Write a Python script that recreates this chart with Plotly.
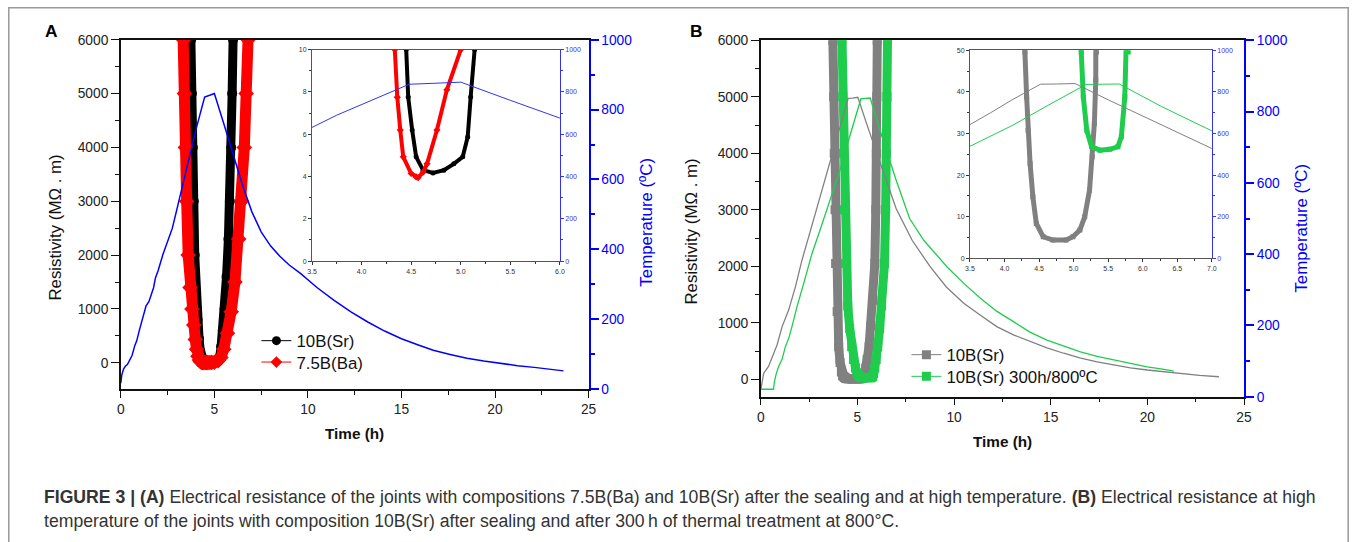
import plotly.graph_objects as go

W, H = 1357, 542
# measured mapping of the photographed page: screen = O + S * page
SX, OX, SY, OY = 0.992, 3.5, 0.973, 6.7
def pgx(s): return (s - OX) / SX
def pgy(s): return (s - OY) / SY
def px(s): return pgx(s) / W
def py(s): return 1 - pgy(s) / H
FS = 1.02  # font compensation

# ---------------- Panel A data ----------------
sr_a_t = [3.72, 3.76, 3.80, 3.85, 3.90, 3.95, 4.02, 4.10, 4.18, 4.25, 4.32, 4.38, 4.42,
          4.45, 4.47, 4.51, 4.55, 4.62, 4.72, 4.83, 4.93, 5.02, 5.07, 5.10, 5.14,
          5.20, 5.28, 5.36, 5.45, 5.55, 5.65, 5.75, 5.83, 5.90, 5.95, 6.00, 6.03]
sr_a_r = [6500, 6000, 5000, 4000, 3000, 2000, 1300, 800, 450, 220, 90, 35, 15,
          10, 7.76, 6.2, 4.93, 4.3, 4.17, 4.3, 4.6, 4.93, 5.87, 7.76, 10,
          30, 100, 300, 600, 1000, 1600, 2300, 3000, 4000, 5000, 6000, 6500]

ba_a_t = [3.30, 3.35, 3.40, 3.45, 3.52, 3.60, 3.70, 3.80, 3.90, 3.98, 4.05, 4.12, 4.20,
          4.26, 4.30, 4.335, 4.36, 4.39, 4.42, 4.50, 4.55, 4.57, 4.62, 4.66, 4.76,
          4.86, 5.00, 5.20, 5.35, 5.50, 5.70, 5.90, 6.10, 6.30, 6.45, 6.60, 6.70, 6.80, 6.85]
ba_a_r = [6500, 6000, 5000, 4000, 3000, 2000, 1400, 1000, 700, 430, 250, 120, 50,
          20, 13, 10, 7.75, 6.2, 4.93, 4.14, 3.98, 3.95, 4.2, 4.6, 6.2,
          8.1, 10, 40, 100, 250, 550, 950, 1500, 2300, 3000, 4000, 5000, 6000, 6500]

temp_a_t = [0, 0.05, 0.15, 0.25, 0.35, 0.5, 0.6, 0.75, 0.85, 1.0, 1.1, 1.25, 1.35, 1.5,
            1.6, 1.75, 1.85, 2.0, 2.25, 2.5, 2.75, 3.0, 3.25, 3.5, 3.75, 4.0, 4.25, 4.48,
            4.75, 5.0, 5.5, 6.0, 6.5, 7.0, 7.5, 8.0, 8.5, 9.0, 9.6, 10.5, 11.4, 12.3,
            13.2, 14.1, 15.0, 15.9, 16.7, 17.6, 18.5, 19.4, 20.3, 21.2, 22.1, 22.9, 23.66]
temp_a_v = [17, 40, 58, 66, 70, 86, 96, 125, 138, 170, 190, 212, 238, 250,
            268, 290, 318, 340, 385, 420, 460, 515, 572, 632, 690, 740, 790, 836,
            841, 846, 760, 672, 585, 508, 450, 410, 380, 355, 331, 290, 254, 221,
            192, 166, 144, 126, 111, 99, 88, 80, 73, 67, 62, 57, 52]

# ---------------- Panel B data ----------------
sr_b_t = [3.70, 3.73, 3.77, 3.80, 3.84, 3.87, 3.95, 4.03, 4.10, 4.17, 4.23,
          4.295, 4.32, 4.34, 4.37, 4.41, 4.46, 4.56, 4.70, 4.89, 4.99, 5.09, 5.16,
          5.23, 5.27, 5.30, 5.32, 5.33,
          5.37, 5.43, 5.50, 5.60, 5.70, 5.80, 5.90, 5.95, 5.98, 6.00, 6.02, 6.04]
sr_b_r = [6500, 6000, 5000, 4000, 3000, 2050, 1200, 576, 300, 130, 65,
          49.6, 38.8, 30.8, 22.8, 14.8, 8.4, 5.2, 4.4, 4.4, 5.2, 6.8, 10,
          16.4, 24.4, 32.4, 42.8, 49.6,
          100, 200, 350, 576, 950, 1400, 2050, 3000, 4000, 5000, 6000, 6500]

aged_b_t = [4.17, 4.20, 4.24, 4.28, 4.33, 4.38, 4.50, 4.60, 4.70, 4.80, 4.90, 4.98, 5.05,
            5.11, 5.14, 5.19, 5.26, 5.38, 5.52, 5.64, 5.69, 5.74, 5.79,
            5.84, 5.90, 5.97, 6.05, 6.15, 6.25, 6.40, 6.46, 6.50, 6.53, 6.55, 6.57]
aged_b_r = [6500, 6000, 5000, 4000, 3000, 2050, 1300, 900, 576, 350, 200, 110, 70,
            49.6, 38.8, 30.8, 26.8, 26.0, 26.2, 26.8, 29.2, 38.8, 49.6,
            100, 200, 350, 576, 900, 1300, 2050, 3000, 4000, 5000, 6000, 6500]

temp_sr_b_t = [0, 0.15, 0.4, 0.66, 0.84, 1.1, 1.44, 1.79, 2.13, 2.48, 2.82, 3.17, 3.5,
               3.8, 4.1, 4.52, 4.75, 5.02, 5.5, 6.0, 6.5, 7.0, 7.83, 8.77, 9.6, 10.5,
               11.4, 12.23, 13.1, 13.95, 14.8, 15.67, 16.5, 17.4, 18.3, 19.12, 20.0,
               20.85, 21.8, 22.7, 23.7]
temp_sr_b_v = [19, 66, 85, 122, 145, 196, 243, 308, 383, 449, 514, 580, 645,
               700, 760, 837, 838, 840, 762, 683, 605, 528, 439, 364, 308, 262,
               227, 196, 173, 154, 137, 122, 109, 98, 89, 81, 75,
               70, 65, 60, 56]

temp_aged_b_t = [0, 0.66, 0.70, 0.80, 0.92, 1.1, 1.27, 1.45, 1.61, 1.87, 2.22, 2.65, 3.08,
                 3.5, 4.12, 4.6, 5.18, 5.42, 5.66, 6.27, 7.0, 7.7, 8.43, 9.64, 10.5,
                 11.36, 12.2, 13.09, 13.9, 14.8, 15.7, 16.54, 17.4, 18.26, 19.1, 19.99,
                 20.7, 21.37]
temp_aged_b_v = [21, 21, 40, 65, 84, 105, 140, 165, 196, 252, 318, 402, 470,
                 540, 640, 730, 836, 837, 838, 730, 608, 500, 439, 364, 318,
                 276, 240, 210, 182, 159, 141, 126, 113, 103, 93, 84,
                 78, 72]

main_x_ticks = [0, 5, 10, 15, 20, 25]
res_ticks = [0, 1000, 2000, 3000, 4000, 5000, 6000]
temp_ticks = [0, 200, 400, 600, 800, 1000]

BLACK = "#000000"
RED = "#ff0000"
BLUE = "#0000ff"
GRAY = "#808080"
GREEN = "#1fcc4e"
FONT = "Arial, Liberation Sans, Helvetica, sans-serif"

fig = go.Figure()

def add(x, y, xa, ya, color, symbol=None, msize=0, lwidth=1, mode="lines+markers"):
    fig.add_trace(go.Scatter(
        x=x, y=y, xaxis=xa, yaxis=ya, mode=mode, showlegend=False,
        line=dict(color=color, width=lwidth),
        marker=dict(color=color, symbol=symbol or "circle", size=msize),
        hoverinfo="skip"))

# Panel A main
add(sr_a_t, sr_a_r, "x", "y", BLACK, "circle", 10, 9)
add(ba_a_t, ba_a_r, "x", "y", RED, "diamond", 12, 11)
add(temp_a_t, temp_a_v, "x", "y2", BLUE, lwidth=1.5, mode="lines")
# Panel A inset
add(sr_a_t, sr_a_r, "x3", "y3", BLACK, "circle", 5, 4)
add(ba_a_t, ba_a_r, "x3", "y3", RED, "diamond", 5.5, 4)
add(temp_a_t, temp_a_v, "x3", "y4", "#3333ee", lwidth=1, mode="lines")
# Panel B main
add(sr_b_t, sr_b_r, "x2", "y5", GRAY, "square", 9, 9)
add(aged_b_t, aged_b_r, "x2", "y5", GREEN, "square", 9, 9)
add(temp_sr_b_t, temp_sr_b_v, "x2", "y6", GRAY, lwidth=1.3, mode="lines")
add(temp_aged_b_t, temp_aged_b_v, "x2", "y6", GREEN, lwidth=1.3, mode="lines")
# Panel B inset
add(sr_b_t, sr_b_r, "x4", "y7", GRAY, "square", 5, 5)
add(aged_b_t, aged_b_r, "x4", "y7", GREEN, "square", 5, 5)
add(temp_sr_b_t, temp_sr_b_v, "x4", "y8", GRAY, lwidth=1, mode="lines")
add(temp_aged_b_t, temp_aged_b_v, "x4", "y8", GREEN, lwidth=1, mode="lines")

# legend entries, one legend per entry for exact placement
LEG_FONT = dict(family=FONT, size=16.5 * FS, color="#111")
legend_items = [
    ("10B(Sr)", BLACK, "circle", "legend", 297, 339.3),
    ("7.5B(Ba)", RED, "diamond", "legend2", 297, 360.7),
    ("10B(Sr)", GRAY, "square", "legend3", 948, 353.3),
    ("10B(Sr) 300h/800ºC", GREEN, "square", "legend4", 948, 375.0),
]
legend_layout = {}
for name, color, symbol, lg, tx, ty in legend_items:
    fig.add_trace(go.Scatter(
        x=[None], y=[None], xaxis="x", yaxis="y", mode="lines+markers", name=name,
        line=dict(color=color, width=1), marker=dict(color=color, symbol=symbol, size=9),
        legend=lg))
    legend_layout[lg] = dict(x=(pgx(tx) - 42) / W, y=1 - (pgy(ty) - 16.6) / H,
                             xanchor="left", yanchor="top", bgcolor="rgba(0,0,0,0)",
                             font=LEG_FONT, itemwidth=30)

tickfont_main = dict(family=FONT, size=13.5 * FS, color="#222")
tickfont_blue = dict(family=FONT, size=13.5 * FS, color=BLUE)
tickfont_in = dict(family=FONT, size=7, color="#333")
tickfont_in_blue = dict(family=FONT, size=7, color="#3333ee")

def xmain(dom, anchor):
    return dict(domain=dom, anchor=anchor, range=[0, 25], tickvals=main_x_ticks,
                ticks="outside", ticklen=7, tickwidth=1.3, tickcolor="#111",
                showline=True, linecolor="#111", linewidth=1.5, mirror=True,
                showgrid=False, zeroline=False, tickfont=tickfont_main,
                minor=dict(dtick=2.5, tick0=0, ticks="outside", ticklen=4,
                           tickcolor="#111", tickwidth=1.2))

def yleft(dom, anchor, rng):
    return dict(domain=dom, anchor=anchor, range=rng, tickvals=res_ticks,
                ticks="outside", ticklen=8, tickwidth=1.3, tickcolor="#111",
                showline=True, linecolor="#111", linewidth=1.5, showgrid=False,
                zeroline=False, tickfont=tickfont_main,
                minor=dict(dtick=500, tick0=0, ticks="outside", ticklen=4,
                           tickcolor="#111", tickwidth=1.2))

def yright(over, anchor):
    return dict(overlaying=over, anchor=anchor, side="right", range=[0, 1000],
                tickvals=temp_ticks, ticks="outside", ticklen=8, tickwidth=1.5,
                tickcolor=BLUE, showline=True, linecolor=BLUE, linewidth=2,
                showgrid=False, zeroline=False, tickfont=tickfont_blue,
                minor=dict(dtick=100, tick0=0, ticks="outside", ticklen=4,
                           tickcolor=BLUE, tickwidth=1.5))

def xin(dom, anchor, rng):
    return dict(domain=dom, anchor=anchor, range=rng, dtick=0.5, tick0=3.5,
                tickformat=".1f", ticks="outside", ticklen=3, tickcolor="#333",
                showline=True, linecolor="#555", linewidth=1, mirror=True,
                showgrid=False, zeroline=False, tickfont=tickfont_in,
                minor=dict(dtick=0.25, tick0=3.5, ticks="outside", ticklen=2,
                           tickcolor="#333"))

def yin(dom, anchor, rng, dt):
    return dict(domain=dom, anchor=anchor, range=rng, dtick=dt, tick0=0,
                ticks="outside", ticklen=3, tickcolor="#333", showline=True,
                linecolor="#555", linewidth=1, showgrid=False, zeroline=False,
                tickfont=tickfont_in,
                minor=dict(dtick=dt / 2, tick0=0, ticks="outside", ticklen=2,
                           tickcolor="#333"))

def yin_r(over, anchor):
    return dict(overlaying=over, anchor=anchor, side="right", range=[0, 1000],
                dtick=200, tick0=0, ticks="outside", ticklen=3, tickcolor="#3333ee",
                showline=True, linecolor="#3333ee", linewidth=1, showgrid=False,
                zeroline=False, tickfont=tickfont_in_blue,
                minor=dict(dtick=100, tick0=0, ticks="outside", ticklen=2,
                           tickcolor="#3333ee"))

layout = dict(
    width=W, height=H, margin=dict(l=0, r=0, t=0, b=0), autosize=False,
    paper_bgcolor="white", plot_bgcolor="white",
    font=dict(family=FONT, color="#222"),
    xaxis=xmain([px(119.5), px(588)], "y"),
    yaxis=yleft([py(389), py(39.5)], "x", [-488, 6000]),
    yaxis2=yright("y", "x"),
    xaxis3=xin([px(311), px(559.3)], "y3", [3.5, 6.0]),
    yaxis3=yin([py(261), py(49.3)], "x3", [0, 10], 2),
    yaxis4=yin_r("y3", "x3"),
    xaxis2=xmain([px(760.5), px(1244.5)], "y5"),
    yaxis5=yleft([py(396.7), py(40)], "x2", [-308, 6000]),
    yaxis6=yright("y5", "x2"),
    xaxis4=xin([px(970), px(1212.3)], "y7", [3.5, 7.0]),
    yaxis7=yin([py(258.3), py(50)], "x4", [0, 50], 10),
    yaxis8=yin_r("y7", "x4"),
    **legend_layout,
)
fig.update_layout(**layout)

def ann(text, x, y, size, color="#111", angle=0, xanchor="center", bold=False, xp=None):
    fig.add_annotation(text=f"<b>{text}</b>" if bold else text,
                       x=px(x) if xp is None else xp, y=py(y),
                       xref="paper", yref="paper", showarrow=False, textangle=angle,
                       xanchor=xanchor, yanchor="middle",
                       font=dict(family=FONT, size=size * FS, color=color))

ann("A", 50, 31, 17, "#000", bold=True)
ann("B", 696, 31, 17, "#000", bold=True)
ann("Resistivity (MΩ . m)", 54, 227, 16.5, angle=-90)
ann("Temperature (ºC)", 646, 222, 16.5, BLUE, angle=-90)
ann("Time (h)", 354, 433, 15, bold=True)
ann("Resistivity (MΩ . m)", 691, 231, 16.5, angle=-90)
ann("Temperature (ºC)", 1302, 228, 16.5, BLUE, angle=-90)
ann("Time (h)", 1003, 442, 15, bold=True)

cap_x = (pgx(45) - 4) / W
ann("<b>FIGURE 3 | (A)</b> Electrical resistance of the joints with compositions 7.5B(Ba) and "
    "10B(Sr) after the sealing and at high temperature. <b>(B)</b> Electrical resistance at high",
    45, 497, 17.3, "#333", xanchor="left", xp=cap_x)
ann("temperature of the joints with composition 10B(Sr) after sealing and after 300\u2009h of "
    "thermal treatment at 800°C.", 45, 521, 17.3, "#333", xanchor="left", xp=cap_x)

# frame around the figure
fig.add_shape(type="rect", xref="paper", yref="paper", x0=px(7.3), x1=(W - 0.8) / W,
              y0=-0.2, y1=1 - 0.8 / H, line=dict(color="#999", width=1.5),
              fillcolor="rgba(0,0,0,0)", layer="below")

fig.write_html("out.html", config={"displayModeBar": False},
               post_script="document.body.style.margin='0px';"
                           "document.body.style.overflow='hidden';")
